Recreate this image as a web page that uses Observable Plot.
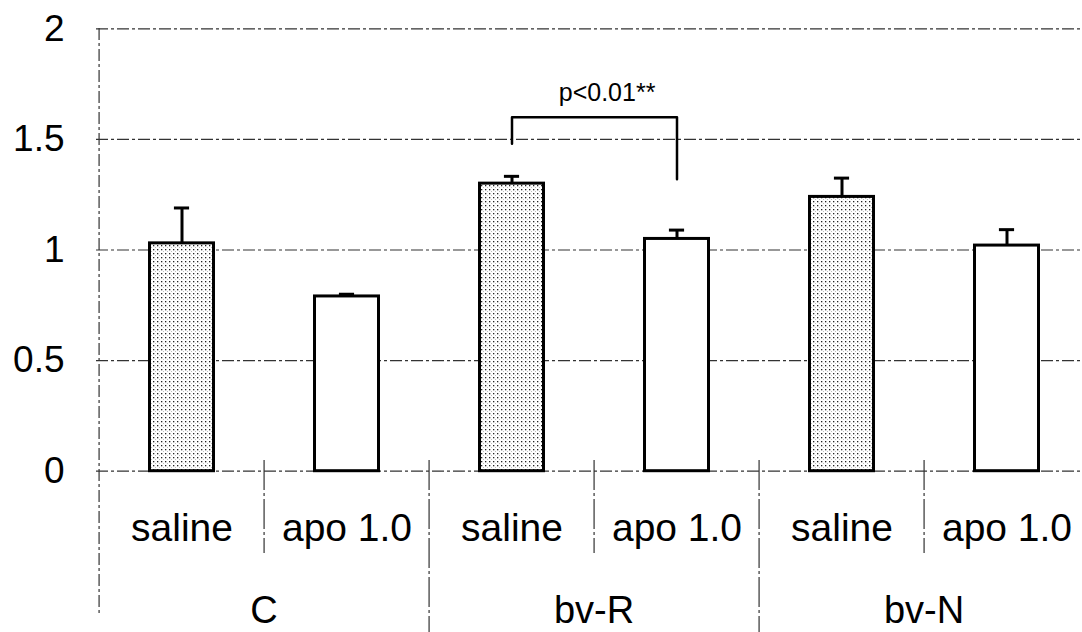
<!DOCTYPE html>
<html>
<head>
<meta charset="utf-8">
<script src="https://cdn.jsdelivr.net/npm/d3@7"></script>
<script src="https://cdn.jsdelivr.net/npm/@observablehq/plot@0.6"></script>
<style>
  html, body { margin: 0; padding: 0; background: white; }
  #chart svg { display: block; }
</style>
</head>
<body>
<div id="chart"></div>
<script>
// ---- data ----
const groups = ["C", "bv-R", "bv-N"];
const treatments = ["saline", "apo 1.0"];
const means = [1.03, 0.79, 1.30, 1.05, 1.24, 1.02];
const errs = [0.16, 0.01, 0.033, 0.04, 0.085, 0.072];
const yTicks = [0, 0.5, 1, 1.5, 2];
// significance bracket between bv-R saline and bv-R apo 1.0
const sigFrom = "bv-R|saline";
const sigTo = "bv-R|apo 1.0";
const sigTop = 1.6;
const sigLegFrom = 1.48;
const sigLegTo = 1.32;
const sigLabel = "p<0.01**";
const sigLabelY = 1.71;

// ---- derived table ----
const rows = groups.flatMap((g, gi) => treatments.map((t, ti) => ({
  key: g + "|" + t, group: g, treatment: t,
  mean: means[gi * 2 + ti], err: errs[gi * 2 + ti]
})));
const keys = rows.map(d => d.key);
const bracket = [
  {key: sigFrom, y: sigLegFrom},
  {key: sigFrom, y: sigTop},
  {key: sigTo, y: sigTop},
  {key: sigTo, y: sigLegTo}
];

// ---- layout ----
const X0 = 96, X1 = 1091;
const bw = (X1 - X0) / keys.length;
const dash = "12,3,3,3";
const font = "'Liberation Sans', Arial, Helvetica, sans-serif";
const stippleMarker = "#cbcbcb";

const chart = Plot.plot({
  width: 1082,
  height: 632,
  marginLeft: 96,
  marginRight: 0,
  marginTop: 0,
  marginBottom: 0,
  style: {fontFamily: font, background: "white", overflow: "visible", color: "black"},
  x: {type: "band", domain: keys, range: [X0, X1], padding: 0, axis: null},
  y: {domain: [0, 2], range: [470.7, 28.3], axis: null},
  marks: [
    // gridlines
    Plot.ruleY(yTicks, {stroke: "#333", strokeWidth: 1.2, strokeDasharray: dash}),
    // left axis line
    Plot.ruleX([keys[0]], {dx: -bw / 2, insetTop: 28, insetBottom: 17, stroke: "#333", strokeWidth: 1.2, strokeDasharray: dash}),
    // separators between treatments
    Plot.ruleX(rows.filter(d => d.treatment === treatments[1]), {x: "key", dx: -bw / 2, insetTop: 460, insetBottom: 79, stroke: "#333", strokeWidth: 1.2, strokeDasharray: "30,3,3,3"}),
    // separators between groups
    Plot.ruleX(rows.filter(d => d.treatment === treatments[0] && d.group !== groups[0]), {x: "key", dx: -bw / 2, insetTop: 460, insetBottom: 0, stroke: "#333", strokeWidth: 1.2, strokeDasharray: "30,3,3,3"}),
    // y tick labels
    Plot.axisY(yTicks, {tickSize: 0, tickPadding: 32, fontSize: 37, anchor: "left", label: null, tickFormat: d => String(d)}),
    // error bars
    Plot.ruleX(rows, {x: "key", y1: "mean", y2: d => d.mean + d.err, stroke: "black", strokeWidth: 3}),
    Plot.tickY(rows, {x: "key", y: d => d.mean + d.err, stroke: "black", strokeWidth: 3, insetLeft: bw / 2 - 8, insetRight: bw / 2 - 8}),
    // bars
    Plot.barY(rows.filter(d => d.treatment === "saline"), {x: "key", y: "mean", fill: stippleMarker, stroke: "black", strokeWidth: 3, insetLeft: 50.5, insetRight: 50.5}),
    Plot.barY(rows.filter(d => d.treatment !== "saline"), {x: "key", y: "mean", fill: "white", stroke: "black", strokeWidth: 3, insetLeft: 50.5, insetRight: 50.5}),
    // significance bracket
    Plot.line(bracket, {x: "key", y: "y", stroke: "black", strokeWidth: 2.5, curve: "linear"}),
    Plot.text([sigLabel], {x: () => sigTo, y: () => sigLabelY, text: d => d, dx: -bw / 2 + 13, fontSize: 25, fill: "black"}),
    // treatment labels
    Plot.text(rows, {x: "key", text: "treatment", frameAnchor: "top", lineAnchor: "middle", dy: 528, fontSize: 39, fill: "black"}),
    // group labels
    Plot.text(rows.filter(d => d.treatment === treatments[1]), {x: "key", text: "group", dx: -bw / 2, frameAnchor: "top", lineAnchor: "middle", dy: 610, fontSize: 38, fill: "black"})
  ]
});

// stipple pattern for saline bars
const ns = "http://www.w3.org/2000/svg";
const defs = document.createElementNS(ns, "defs");
defs.innerHTML = '<pattern id="stipple" width="4" height="4" patternUnits="userSpaceOnUse">' +
  '<rect width="4" height="4" fill="white"/>' +
  '<rect x="1" y="1" width="1.3" height="1.3" fill="#222"/>' +
  '<rect x="3" y="3" width="0.8" height="0.8" fill="#999"/>' +
  '</pattern>';
chart.insertBefore(defs, chart.firstChild);
chart.querySelectorAll("[fill]").forEach(el => {
  if (el.getAttribute("fill").toLowerCase() === stippleMarker) el.setAttribute("fill", "url(#stipple)");
});

document.getElementById("chart").appendChild(chart);
</script>
</body>
</html>
